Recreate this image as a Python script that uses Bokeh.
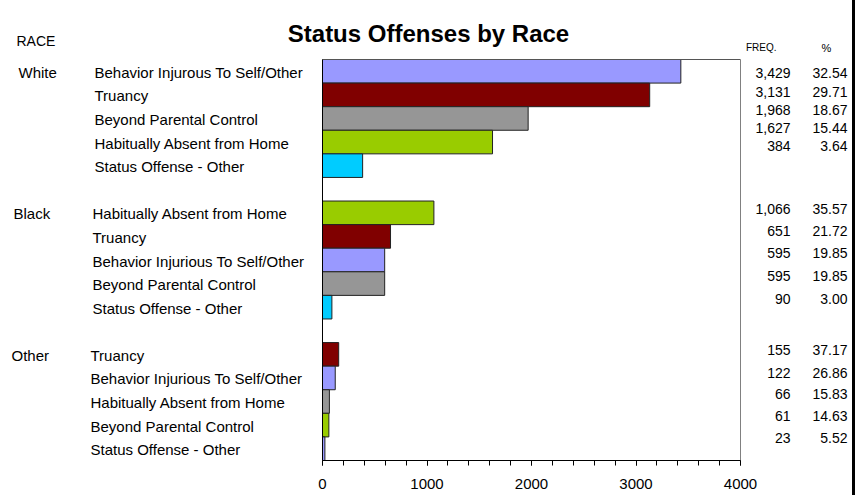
from bokeh.plotting import figure
from bokeh.models import Range1d, FixedTicker, Spacer
from bokeh.layouts import row
from bokeh.embed import file_html
from bokeh.resources import INLINE
from bokeh.core.properties import value

# ---- data -------------------------------------------------------------
TITLE = "Status Offenses by Race"
RACES = ["White", "Black", "Other"]

WHITE_OFFENSES = ["Behavior Injurous To Self/Other", "Truancy",
                  "Beyond Parental Control", "Habitually Absent from Home",
                  "Status Offense - Other"]
WHITE_FREQ = [3429, 3131, 1968, 1627, 384]
WHITE_PCT = [32.54, 29.71, 18.67, 15.44, 3.64]

BLACK_OFFENSES = ["Habitually Absent from Home", "Truancy",
                  "Behavior Injurious To Self/Other", "Beyond Parental Control",
                  "Status Offense - Other"]
BLACK_FREQ = [1066, 651, 595, 595, 90]
BLACK_PCT = [35.57, 21.72, 19.85, 19.85, 3.00]

OTHER_OFFENSES = ["Truancy", "Behavior Injurious To Self/Other",
                  "Habitually Absent from Home", "Beyond Parental Control",
                  "Status Offense - Other"]
OTHER_FREQ = [155, 122, 66, 61, 23]
OTHER_PCT = [37.17, 26.86, 15.83, 14.63, 5.52]

X_TICKS = [0, 1000, 2000, 3000, 4000]
X_MINOR_STEP = 200

# ---- styles -----------------------------------------------------------
LAV, MAROON, GRAY, GREEN, CYAN = "#9999FF", "#800000", "#969696", "#99CC00", "#00CCFF"
GROUP_COLORS = [
    [LAV, MAROON, GRAY, GREEN, CYAN],
    [GREEN, MAROON, LAV, GRAY, CYAN],
    [MAROON, LAV, GRAY, GREEN, LAV],
]
FONT = value("Liberation Sans")

# ---- layout (pixels) --------------------------------------------------
W, H = 852, 495
PLOT_L, PLOT_R, PLOT_T, PLOT_B = 322, 740, 59, 460
N_SLOTS = 17            # 3 groups of 5 rows with a blank row between groups
GROUP_STRIDE = 6
SLOT = (PLOT_B - PLOT_T) / N_SLOTS
XS = (PLOT_R - PLOT_L) / X_TICKS[-1]


def px_x(px):
    return (px - PLOT_L) / XS


def px_y(py):
    return (py - PLOT_T) / SLOT


p = figure(width=W, height=H,
           x_range=Range1d(px_x(0), px_x(W)),
           y_range=Range1d(N_SLOTS, px_y(0)),
           y_axis_location=None, toolbar_location=None,
           output_backend="svg",
           min_border_left=0, min_border_right=0,
           min_border_top=0, min_border_bottom=H - PLOT_B)
p.outline_line_color = None
p.grid.visible = False
p.background_fill_color = "white"
p.border_fill_color = "white"

groups = [
    (WHITE_OFFENSES, WHITE_FREQ, WHITE_PCT),
    (BLACK_OFFENSES, BLACK_FREQ, BLACK_PCT),
    (OTHER_OFFENSES, OTHER_FREQ, OTHER_PCT),
]

# bars
bar_y, bar_v, bar_c = [], [], []
for g, (names, freq, pct) in enumerate(groups):
    for i, v in enumerate(freq):
        bar_y.append(g * GROUP_STRIDE + i + 0.5)
        bar_v.append(v)
        bar_c.append(GROUP_COLORS[g][i])
p.hbar(y=bar_y, left=0, right=bar_v, height=1.0,
       fill_color=bar_c, line_color="#222222", line_width=1)

# plot box: dark left edge, grey top and right edges
top = 0
bottom = N_SLOTS
xmax = X_TICKS[-1]
p.segment(x0=[0, 0, xmax], y0=[bottom, top, top], x1=[0, xmax, xmax], y1=[top, top, bottom],
          line_color=["#000000", "#555555", "#808080"], line_width=1)

# x axis
ax = p.xaxis[0]
ax.bounds = (0, xmax)
ax.ticker = FixedTicker(ticks=X_TICKS,
                        minor_ticks=list(range(0, xmax + 1, X_MINOR_STEP)))
ax.axis_line_color = "#000000"
ax.major_tick_line_color = "#000000"
ax.minor_tick_line_color = "#000000"
ax.major_tick_in = 0
ax.major_tick_out = 5
ax.minor_tick_in = 0
ax.minor_tick_out = 5
ax.major_label_text_font = "Liberation Sans"
ax.major_label_text_font_size = "15px"
ax.major_label_text_color = "#000000"
ax.major_label_standoff = 13

# title
p.text(x=[px_x(428)], y=[px_y(33)], text=[TITLE], text_font=FONT,
       text_font_style="bold", text_font_size="24px", text_align="center",
       text_baseline="alphabetic", text_color="#000000")

# header texts
p.text(x=[px_x(16)], y=[px_y(40)], text=["RACE"], text_font=FONT,
       text_font_size="14px", text_align="left", text_baseline="middle")
p.text(x=[px_x(776)], y=[px_y(47)], text=["FREQ."], text_font=FONT,
       text_font_size="10px", text_align="right", text_baseline="middle")
p.text(x=[px_x(826)], y=[px_y(47)], text=["%"], text_font=FONT,
       text_font_size="11px", text_align="center", text_baseline="middle")

# race / offense labels
RACE_X = [18, 13, 11]
LABEL_X = [94, 92, 90]
for g, (names, freq, pct) in enumerate(groups):
    first = g * GROUP_STRIDE + 0.5
    p.text(x=[px_x(RACE_X[g])], y=[first], text=[RACES[g]], text_font=FONT,
           text_font_size="15px", text_align="left", text_baseline="middle",
           y_offset=1)
    ys = [g * GROUP_STRIDE + i + 0.5 for i in range(len(names))]
    p.text(x=[px_x(LABEL_X[g])] * len(names), y=ys, text=names, text_font=FONT,
           text_font_size="15px", text_align="left", text_baseline="middle",
           y_offset=1)

# frequency / percent table on the right
TABLE_ROWS_PX = [
    [72, 91, 109, 127, 145],
    [208, 230, 252, 275, 298],
    [349, 372, 393, 415, 437],
]
for g, (names, freq, pct) in enumerate(groups):
    ys = [px_y(v) for v in TABLE_ROWS_PX[g]]
    p.text(x=[px_x(790)] * len(freq), y=ys, text=[f"{v:,}" for v in freq],
           text_font=FONT, text_font_size="14px", text_align="right",
           text_baseline="middle")
    p.text(x=[px_x(847)] * len(pct), y=ys, text=[f"{v:.2f}" for v in pct],
           text_font=FONT, text_font_size="14px", text_align="right",
           text_baseline="middle")

edge = Spacer(width=3, height=H, styles={"background-color": "black"})
layout = row(p, edge)

open("out.html", "w").write(file_html(layout, INLINE))
